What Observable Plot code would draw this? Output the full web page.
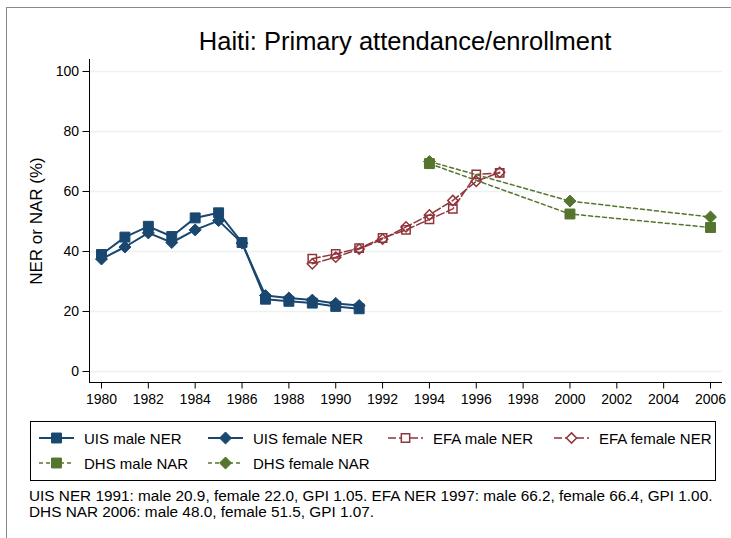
<!DOCTYPE html>
<html><head><meta charset="utf-8">
<script src="https://cdn.jsdelivr.net/npm/d3@7"></script>
<script src="https://cdn.jsdelivr.net/npm/@observablehq/plot@0.6"></script>
<style>
body{margin:0;background:#fff;overflow:hidden;font-family:"Liberation Sans",Arial,Helvetica,sans-serif;color:#000}
#wrap{position:relative;width:731px;height:538px;overflow:hidden;background:#fff}
#frame{position:absolute;left:6px;top:7px;width:800px;height:600px;border:1px solid #8a8a8a}
#title{position:absolute;left:79px;width:652px;top:29px;text-align:center;font-size:25.5px;line-height:25.5px;white-space:nowrap}
#chart{position:absolute;left:0;top:50px}
#legend{position:absolute;left:30px;top:421px;width:686px;height:60px;box-sizing:border-box;border:1px solid #000}
.li{position:absolute;font-size:15px;line-height:15px;white-space:nowrap}
.ls{position:absolute}
.cap{position:absolute;left:29px;font-size:14px;line-height:15.6px;white-space:nowrap;transform:scaleX(1.095);transform-origin:0 50%}
</style></head>
<body><div id="wrap"><div id="frame"></div>
<div id="title">Haiti: Primary attendance/enrollment</div>
<div id="chart"></div>
<div id="legend"></div>
<div class="cap" style="top:489px">UIS NER 1991: male 20.9, female 22.0, GPI 1.05. EFA NER 1997: male 66.2, female 66.4, GPI 1.00.</div>
<div class="cap" style="top:505px">DHS NAR 2006: male 48.0, female 51.5, GPI 1.07.</div>
</div>
<script>
// ---- data ----
const uisYears = [1980,1981,1982,1983,1984,1985,1986,1987,1988,1989,1990,1991];
const uisMale = [39.0,44.8,48.4,45.0,51.2,52.9,43.0,24.1,23.4,22.8,21.7,20.9];
const uisFemale = [37.5,41.5,46.2,43.0,47.2,50.3,42.8,25.3,24.5,23.8,22.7,22.0];
const efaYears = [1989,1990,1991,1992,1993,1994,1995,1996,1997];
const efaMale = [37.6,39.2,41.1,44.5,47.2,50.7,54.2,65.7,66.2];
const efaFemale = [35.9,38.1,40.8,44.1,48.2,52.2,57.0,63.4,66.4];
const dhsYears = [1994,2000,2006];
const dhsMale = [69.3,52.5,48.0];
const dhsFemale = [70.0,56.8,51.5];
const yTicks = [0,20,40,60,80,100];
const xTicks = [1980,1982,1984,1986,1988,1990,1992,1994,1996,1998,2000,2002,2004,2006];
const seriesNames = ["UIS male NER","UIS female NER","EFA male NER","EFA female NER","DHS male NAR","DHS female NAR"];
const yLabel = "NER or NAR (%)";

// ---- styles ----
const navy = "#1a476f", maroon = "#90353b", green = "#55752f";
const series = [
  {name: seriesNames[0], years: uisYears, vals: uisMale, color: navy, symbol: "square", r: 5.6, fill: true, dash: null, sw: 2},
  {name: seriesNames[1], years: uisYears, vals: uisFemale, color: navy, symbol: "diamond2", r: 5.4, fill: true, dash: null, sw: 2},
  {name: seriesNames[2], years: efaYears, vals: efaMale, color: maroon, symbol: "square", r: 4.7, fill: false, dash: "8,3", sw: 1.5},
  {name: seriesNames[3], years: efaYears, vals: efaFemale, color: maroon, symbol: "diamond2", r: 4.6, fill: false, dash: "8,3", sw: 1.5},
  {name: seriesNames[4], years: dhsYears, vals: dhsMale, color: green, symbol: "square", r: 5.6, fill: true, dash: "4,3", sw: 1.5},
  {name: seriesNames[5], years: dhsYears, vals: dhsFemale, color: green, symbol: "diamond2", r: 5.4, fill: true, dash: "4,3", sw: 1.5}
];

const xDomain = [1979.488, 2006.512];
const yDomain = [-3.667, 104];
const font = '"Liberation Sans", Arial, Helvetica, sans-serif';

const marks = [
  Plot.gridY(yTicks, {stroke: "#eaf2f3", strokeOpacity: 1, strokeWidth: 1.5}),
  Plot.ruleX([xDomain[0]], {stroke: "#000", strokeWidth: 1}),
  Plot.ruleY([yDomain[0]], {stroke: "#000", strokeWidth: 1}),
  Plot.axisY(yTicks, {tickSize: 6.5, tickPadding: 4, fontSize: 14, label: null, stroke: "#000"}),
  Plot.axisX(xTicks, {tickSize: 6.5, tickPadding: 5, fontSize: 14, label: null, tickFormat: "d", stroke: "#000"}),
  Plot.text([yLabel], {frameAnchor: "left", dx: -53, rotate: -90, textAnchor: "middle", lineAnchor: "middle", fontSize: 17, fill: "#000"})
];
for (const s of series) {
  const data = s.years.map((yr, i) => ({year: yr, v: s.vals[i]}));
  marks.push(Plot.line(data, {x: "year", y: "v", stroke: s.color, strokeWidth: s.sw, strokeDasharray: s.dash || undefined}));
  marks.push(Plot.dot(data, {x: "year", y: "v", symbol: s.symbol, r: s.r,
    fill: s.fill ? s.color : "white", fillOpacity: s.fill ? 1 : 0, stroke: s.color, strokeWidth: s.fill ? 1 : 1.5}));
}

const chart = Plot.plot({
  width: 731, height: 370,
  marginTop: 9, marginBottom: 38, marginLeft: 89, marginRight: 9,
  style: {fontFamily: font, fontSize: "14px", color: "#000", background: "transparent"},
  x: {domain: xDomain},
  y: {domain: yDomain},
  marks
});
document.getElementById("chart").appendChild(chart);

// ---- legend ----
const cols = [8, 177, 357, 523];   // symbol left within legend box
const rows = [17, 42];
const legend = d3.select("#legend");
series.forEach((s, i) => {
  const col = cols[i % 4], row = rows[Math.floor(i / 4)];
  const svg = legend.append("svg").attr("class", "ls").attr("width", 36).attr("height", 16)
    .style("left", col + "px").style("top", (row - 8 - 1) + "px");
  svg.append("line").attr("x1", 0).attr("x2", 35).attr("y1", 8).attr("y2", 8)
    .attr("stroke", s.color).attr("stroke-width", s.sw).attr("stroke-dasharray", s.dash || null);
  const sym = s.symbol === "square" ? d3.symbolSquare : d3.symbolDiamond2;
  const size = Math.PI * s.r * s.r;
  svg.append("path").attr("transform", "translate(17.5,8)").attr("d", d3.symbol(sym, size)())
    .attr("fill", s.fill ? s.color : "white").attr("stroke", s.color).attr("stroke-width", s.fill ? 1 : 1.5);
  legend.append("div").attr("class", "li").text(s.name)
    .style("left", (col + 45) + "px").style("top", (row - 7.5 - 1) + "px");
});
</script>
</body></html>
